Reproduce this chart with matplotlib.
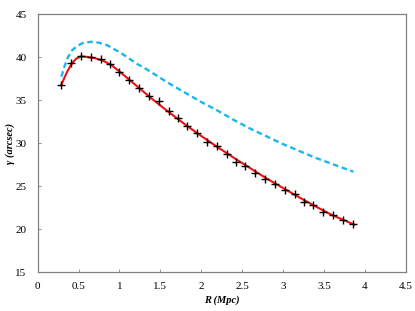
import matplotlib

matplotlib.use("Agg")

import matplotlib.pyplot as plt

# measured points (crosses)
r_obs = [0.29, 0.41, 0.53, 0.65, 0.77, 0.89, 1.00, 1.12, 1.24, 1.36, 1.48,
         1.60, 1.72, 1.83, 1.95, 2.07, 2.19, 2.31, 2.43, 2.54, 2.66, 2.78,
         2.90, 3.02, 3.14, 3.26, 3.37, 3.49, 3.61, 3.73, 3.85]
gamma_obs = [36.8, 39.3, 40.15, 40.0, 39.8, 39.2, 38.25, 37.4, 36.4, 35.5, 34.9,
             33.7, 32.9, 32.0, 31.25, 30.2, 29.7, 28.7, 27.8, 27.4, 26.6, 25.85,
             25.25, 24.55, 24.1, 23.2, 22.85, 22.05, 21.65, 21.05, 20.65]

# red fit curve
r_fit = [0.29, 0.33, 0.37, 0.42, 0.47, 0.53, 0.60, 0.70, 0.80, 0.90, 1.00,
         1.10, 1.20, 1.30, 1.40, 1.60, 1.80, 2.00, 2.20, 2.40, 2.60, 2.80,
         3.00, 3.20, 3.40, 3.60, 3.87]
gamma_fit = [36.8, 37.7, 38.5, 39.3, 39.85, 40.1, 40.05, 39.9, 39.6, 39.1, 38.35,
             37.55, 36.75, 35.95, 35.15, 33.65, 32.2, 30.85, 29.55, 28.3, 27.1, 25.9,
             24.8, 23.7, 22.65, 21.65, 20.55]

# blue dashed curve
r_model = [0.29, 0.33, 0.37, 0.42, 0.48, 0.55, 0.65, 0.75, 0.85, 1.00, 1.10,
           1.20, 1.30, 1.40, 1.60, 1.80, 2.00, 2.20, 2.40, 2.60, 2.80, 3.00,
           3.20, 3.40, 3.60, 3.86]
gamma_model = [37.75, 39.0, 40.0, 40.8, 41.3, 41.65, 41.8, 41.7, 41.4, 40.6, 40.0,
               39.3, 38.8, 38.2, 37.0, 35.9, 34.8, 33.8, 32.7, 31.7, 30.8, 29.9,
               29.1, 28.3, 27.6, 26.7]

x_ticks = [0, 0.5, 1, 1.5, 2, 2.5, 3, 3.5, 4, 4.5]
x_labels = ["0", "0.5", "1", "1.5", "2", "2.5", "3", "3.5", "4", "4.5"]
y_ticks = [15, 20, 25, 30, 35, 40, 45]

plt.rcParams["font.family"] = ["Liberation Serif", "DejaVu Serif"]

fig = plt.figure(figsize=(4.15, 3.11), dpi=100)
ax = fig.add_axes([0.0908, 0.1244, 0.887, 0.8296])

ax.plot(r_model, gamma_model, color="#1cb6ee", lw=1.7, dashes=[2.4, 1.5], zorder=2)
ax.plot(r_fit, gamma_fit, color="#ee1111", lw=1.5, zorder=3)
ax.plot(r_obs, gamma_obs, ls="none", marker="+", ms=6, mew=1.0, color="black", zorder=4)

ax.set_xlim(0, 4.5)
ax.set_ylim(15, 45)
ax.set_xticks(x_ticks)
ax.set_xticklabels(x_labels)
ax.set_yticks(y_ticks)
ax.tick_params(direction="in", length=2.5, width=0.6, colors="#808080",
               labelcolor="black", labelsize=8)
ax.tick_params(axis="x", pad=7)
ax.tick_params(axis="y", pad=8)
for sp in ax.spines.values():
    sp.set_color("#808080")
    sp.set_linewidth(0.9)

ax.set_xlabel("R (Mpc)", fontsize=7.5, fontweight="bold", fontstyle="italic", labelpad=3)
ax.set_ylabel("γ (arcsec)", fontsize=7.5, fontweight="bold", fontstyle="italic", labelpad=0)

fig.savefig("out.png", dpi=100, facecolor="white")
